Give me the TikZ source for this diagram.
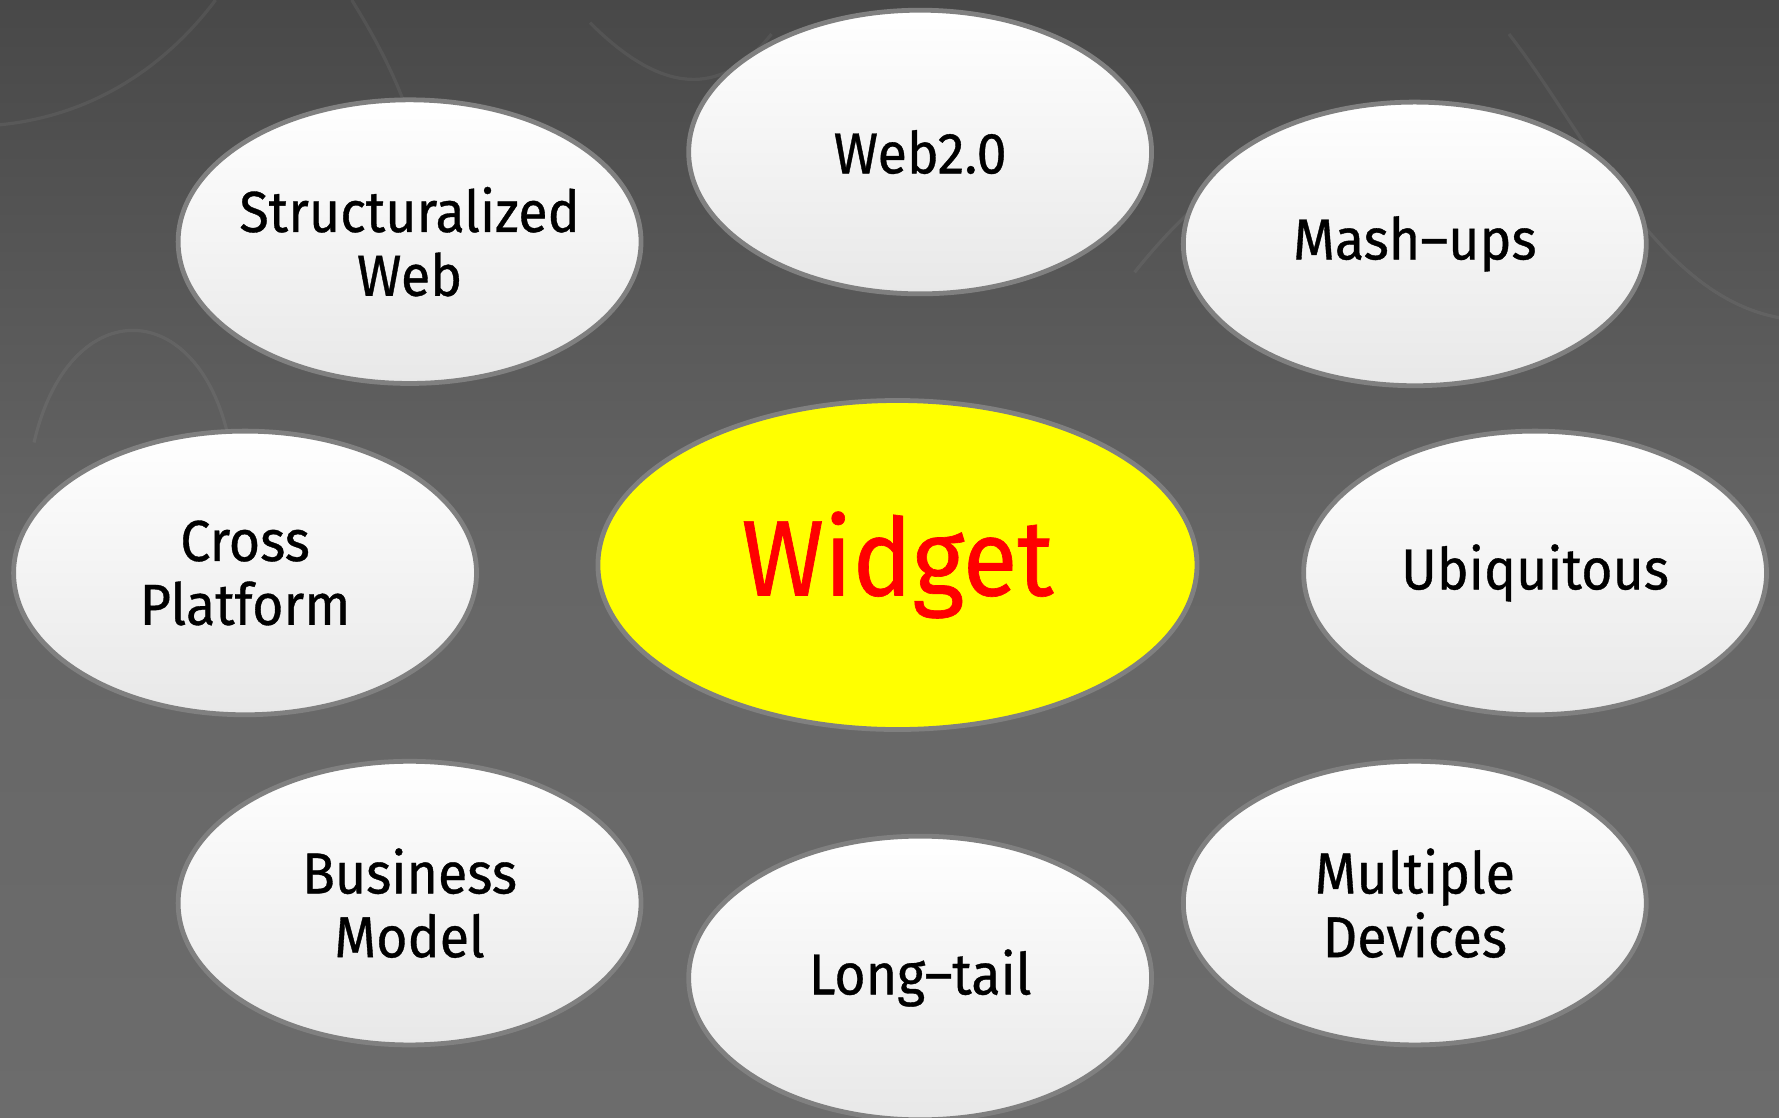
\documentclass[tikz,border=0pt]{standalone}
\usepackage{fontspec}
\setmainfont{Fira Sans}[FakeStretch=0.93, FakeBold=0.6]
\definecolor{bgtop}{RGB}{72, 72, 72}
\definecolor{bgmid}{RGB}{102, 102, 102}
\definecolor{bgbot}{RGB}{108, 108, 108}
\definecolor{ringgray}{RGB}{128, 128, 128}
\definecolor{bubblebot}{RGB}{232, 232, 232}
\definecolor{hubyellow}{RGB}{255, 255, 0}
\definecolor{hubred}{RGB}{255, 0, 0}
\usetikzlibrary{shapes.geometric}

\tikzset{
  bubble/.style={ellipse, draw=ringgray, line width=1.2pt, top color=white, bottom color=bubblebot,
    minimum width=4.08cm, minimum height=2.5cm, inner xsep=-0.5cm, inner ysep=0pt, align=center,
    font=\fontsize{14.5}{16}\selectfont},
  hub/.style={ellipse, draw=ringgray, line width=1.2pt, fill=hubyellow,
    minimum width=5.28cm, minimum height=2.9cm, inner sep=0pt,
    text=hubred, font=\fontsize{27}{30}\selectfont},
  swirl/.style={white, opacity=0.06, line width=0.8pt}
}

\begin{document}
\begin{tikzpicture}
  % Background
  \shade[top color=bgtop, bottom color=bgbot, middle color=bgmid] (0,0) rectangle (15.68,-9.85);
  \useasboundingbox (0,0) rectangle (15.68,-9.85);

  % faint swirls
  \draw[swirl] (0,-1.1) .. controls (1.0,-1.0) and (1.6,-0.4) .. (1.9,0);
  \draw[swirl] (0.3,-3.9) .. controls (0.6,-2.6) and (1.7,-2.6) .. (2.0,-3.8);
  \draw[swirl] (3.1,0) .. controls (3.6,-0.8) and (3.9,-1.6) .. (3.7,-2.5);
  \draw[swirl] (5.2,-0.2) .. controls (5.9,-0.9) and (6.4,-0.8) .. (6.8,-0.3);
  \draw[swirl] (10.0,-2.4) .. controls (10.8,-1.4) and (11.6,-1.0) .. (12.8,-1.0);
  \draw[swirl] (13.3,-0.3) .. controls (14.0,-1.2) and (14.6,-2.6) .. (15.68,-2.8);

  % Hub
  \node[hub] (widget) at (7.91,-4.98) {Widget};

  % Surrounding bubbles
  \node[bubble] (web)    at (8.11,-1.34) {Web2.0};
  \node[bubble] (struct) at (3.61,-2.13) {Structuralized\\Web};
  \node[bubble] (mash)   at (12.47,-2.15) {Mash--ups};
  \node[bubble] (cross)  at (2.16,-5.05) {Cross\\Platform};
  \node[bubble] (ubiq)   at (13.53,-5.05) {Ubiquitous};
  \node[bubble] (biz)    at (3.61,-7.96) {Business\\Model};
  \node[bubble] (tail)   at (8.11,-8.62) {Long--tail};
  \node[bubble] (multi)  at (12.47,-7.96) {Multiple\\Devices};
\end{tikzpicture}
\end{document}
